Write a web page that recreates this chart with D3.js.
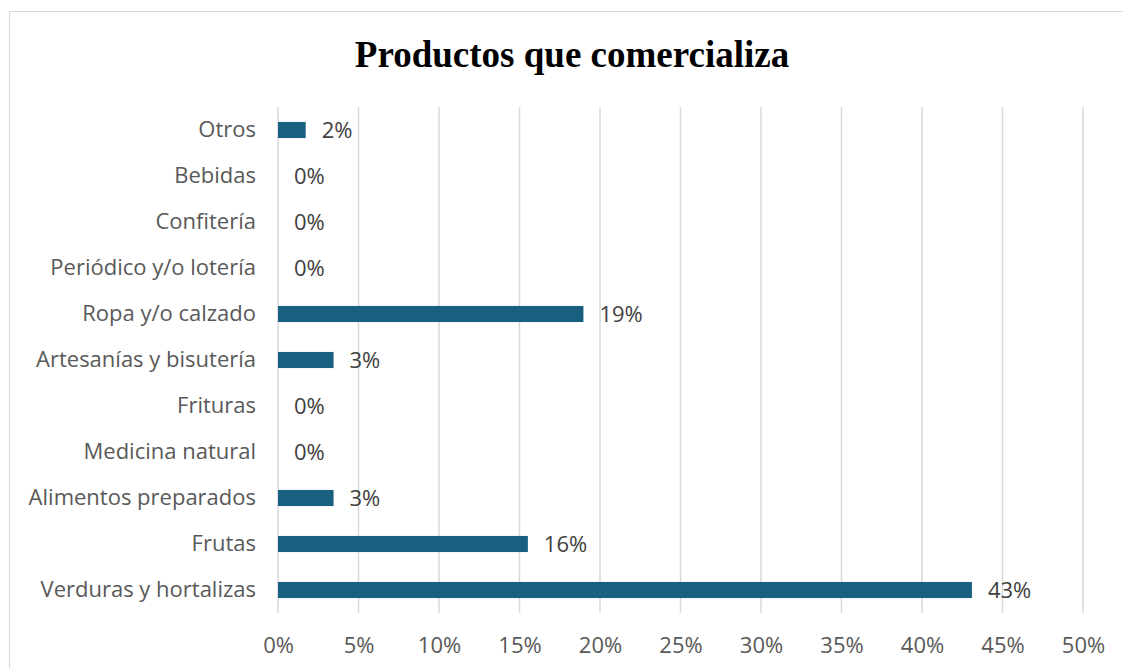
<!DOCTYPE html>
<html>
<head>
<meta charset="utf-8">
<script src="https://cdn.jsdelivr.net/npm/d3@7"></script>
<style>
  body { margin: 0; background: #fff; }
  svg text { font-family: "Open Sans", Inter, sans-serif; }
</style>
</head>
<body>
<div id="chart"></div>
<script>
//Width and height
var w = 1123;
var h = 668;

//Data (top to bottom)
var categories = [
  "Otros",
  "Bebidas",
  "Confitería",
  "Periódico y/o lotería",
  "Ropa y/o calzado",
  "Artesanías y bisutería",
  "Frituras",
  "Medicina natural",
  "Alimentos preparados",
  "Frutas",
  "Verduras y hortalizas"
];
var values = [1.72, 0, 0, 0, 18.97, 3.45, 0, 0, 3.45, 15.52, 43.10];
var labels = ["2%", "0%", "0%", "0%", "19%", "3%", "0%", "0%", "3%", "16%", "43%"];
var tickValues = [0, 5, 10, 15, 20, 25, 30, 35, 40, 45, 50];

var plot = { left: 278, right: 1083, top: 107, bottom: 613 };

//Scales
var xScale = d3.scaleLinear()
  .domain([0, 50])
  .range([plot.left, plot.right]);

var yScale = d3.scaleBand()
  .domain(categories)
  .range([plot.top, plot.bottom])
  .paddingInner(0.65)
  .paddingOuter(0.325);

var svg = d3.select("#chart")
  .append("svg")
  .attr("width", w)
  .attr("height", h);

//Outer frame (extends past the picture)
svg.append("rect")
  .attr("x", 9.5)
  .attr("y", 11.5)
  .attr("width", w)
  .attr("height", h)
  .attr("fill", "none")
  .attr("stroke", "#d9d9d9")
  .attr("stroke-width", 1);

//Title
svg.append("text")
  .attr("x", 572)
  .attr("y", 67)
  .attr("text-anchor", "middle")
  .style("font-family", "'Liberation Serif', 'Times New Roman', serif")
  .style("font-weight", "bold")
  .style("font-size", "37px")
  .attr("fill", "#000")
  .text("Productos que comercializa");

//Gridlines
svg.append("g")
  .selectAll("line")
  .data(tickValues)
  .enter()
  .append("line")
  .attr("x1", function(d) { return xScale(d); })
  .attr("x2", function(d) { return xScale(d); })
  .attr("y1", plot.top)
  .attr("y2", plot.bottom)
  .attr("stroke", "#d9d9d9")
  .attr("stroke-width", 1.5);

//Bars
svg.append("g")
  .selectAll("rect")
  .data(values)
  .enter()
  .append("rect")
  .attr("x", xScale(0))
  .attr("y", function(d, i) { return yScale(categories[i]); })
  .attr("width", function(d) { return xScale(d) - xScale(0); })
  .attr("height", yScale.bandwidth())
  .attr("fill", "#185f80");

//Data labels
svg.append("g")
  .selectAll("text")
  .data(values)
  .enter()
  .append("text")
  .attr("x", function(d) { return xScale(d) + 16; })
  .attr("y", function(d, i) { return yScale(categories[i]) + yScale.bandwidth() / 2; })
  .attr("dy", "0.36em")
  .style("font-size", "22px")
  .attr("fill", "#404040")
  .text(function(d, i) { return labels[i]; });

//Category axis
var yAxis = d3.axisLeft(yScale).tickSize(0).tickPadding(22);
var yG = svg.append("g")
  .attr("transform", "translate(" + plot.left + ",0)")
  .call(yAxis);
yG.select(".domain").remove();
yG.selectAll("text")
  .style("font-size", "22px")
  .attr("fill", "#595959");

//Value axis
var xAxis = d3.axisBottom(xScale)
  .tickValues(tickValues)
  .tickSize(0)
  .tickPadding(24)
  .tickFormat(function(d) { return d + "%"; });
var xG = svg.append("g")
  .attr("transform", "translate(0," + plot.bottom + ")")
  .call(xAxis);
xG.select(".domain").remove();
xG.selectAll("text")
  .style("font-size", "22px")
  .attr("fill", "#595959");
</script>
</body>
</html>
